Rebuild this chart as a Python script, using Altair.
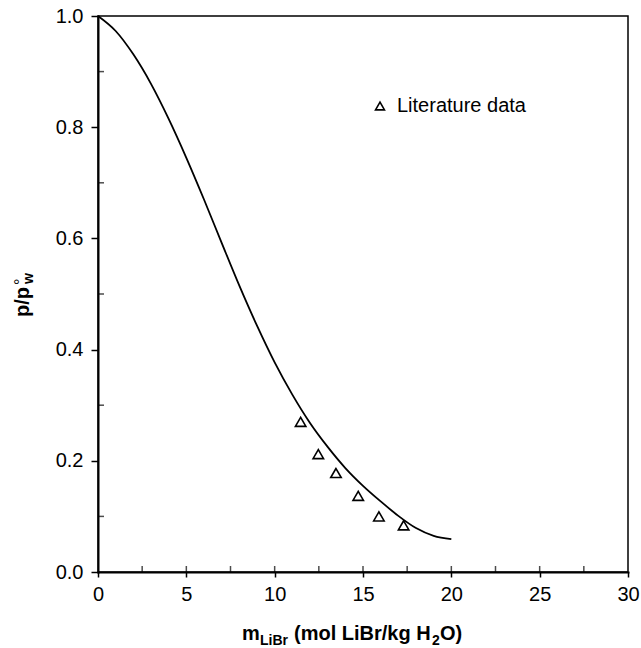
import altair as alt
import pandas as pd

# Model curve
curve_m = [0, 1, 2, 3, 4, 5, 6, 7, 8, 9, 10, 11, 12, 13, 14, 15, 16, 17, 18, 19, 20]
curve_p = [1.000, 0.973, 0.931, 0.878, 0.815, 0.745, 0.670, 0.592, 0.515, 0.443, 0.377,
           0.319, 0.268, 0.225, 0.187, 0.155, 0.127, 0.101, 0.079, 0.065, 0.059]

# Literature data
lit_m = [11.47, 12.47, 13.47, 14.73, 15.9, 17.3]
lit_p = [0.270, 0.212, 0.178, 0.137, 0.100, 0.084]
lit_label = "Literature data"

x_major = [0, 5, 10, 15, 20, 25, 30]
x_inner = [2.5, 5, 7.5, 10, 12.5, 15, 17.5, 20, 22.5, 25, 27.5]
y_major = [0.0, 0.2, 0.4, 0.6, 0.8, 1.0]
y_minor = [0.1, 0.3, 0.5, 0.7, 0.9]

W, H = 530, 556
FONT = "Liberation Sans"

curve_df = pd.DataFrame({"m": curve_m, "p": curve_p})
lit_df = pd.DataFrame({"m": lit_m, "p": lit_p, "series": [lit_label] * len(lit_m)})

xscale = alt.Scale(domain=[0, 30], nice=False, zero=False)
yscale = alt.Scale(domain=[0, 1], nice=False, zero=False)

xaxis = alt.Axis(values=x_major, format="d", title=None, grid=False, tickSize=5,
                 tickWidth=1.5, tickColor="black", domainColor="black", domainWidth=2,
                 labelFont=FONT, labelFontSize=20, labelColor="black", labelPadding=7,
                 labelFlush=False)
yaxis = alt.Axis(values=y_major, format=".1f", title=None, grid=False, tickSize=7,
                 tickWidth=1.5, tickColor="black", domainColor="black", domainWidth=2,
                 labelFont=FONT, labelFontSize=20, labelColor="black", labelPadding=8)

line = alt.Chart(curve_df).mark_line(color="black", strokeWidth=1.8, interpolate="monotone").encode(
    x=alt.X("m:Q", scale=xscale, axis=xaxis),
    y=alt.Y("p:Q", scale=yscale, axis=yaxis),
)

pts = alt.Chart(lit_df).mark_point(shape="triangle-up", filled=False, size=110, strokeWidth=1.6, opacity=1).encode(
    x=alt.X("m:Q", scale=xscale),
    y=alt.Y("p:Q", scale=yscale),
    color=alt.Color("series:N", scale=alt.Scale(range=["black"]),
                    legend=alt.Legend(title=None, orient="none", legendX=272, legendY=80,
                                      symbolType="triangle-up", symbolSize=80, symbolStrokeWidth=1.6,
                                      symbolFillColor="white", labelFont=FONT, labelFontSize=20,
                                      labelColor="black", padding=0, labelOffset=7)),
)

xt_df = pd.DataFrame({"v": x_inner})
x_in = alt.Chart(xt_df).mark_tick(color="black", thickness=1.5, size=6, orient="vertical").encode(
    x=alt.X("v:Q", scale=xscale), y=alt.value(H - 3))

yt_df = pd.DataFrame({"v": y_minor})
y_in = alt.Chart(yt_df).mark_tick(color="black", thickness=1.5, size=6, orient="horizontal").encode(
    y=alt.Y("v:Q", scale=yscale), x=alt.value(3))


def txt(s, x, y, size, bold=True, angle=0, align="left"):
    return alt.Chart(pd.DataFrame({"t": [s]})).mark_text(
        font=FONT, fontSize=size, fontWeight="bold" if bold else "normal", color="black",
        align=align, baseline="alphabetic", angle=angle).encode(
        text="t:N", x=alt.value(x), y=alt.value(y))


bx = 144
by = H + 68
xt = [
    txt("m", bx, by, 20),
    txt("LiBr", bx + 18, by + 5, 14),
    txt("(mol LiBr/kg H", bx + 52, by, 20),
    txt("2", bx + 52 + 138, by + 5, 14),
    txt("O)", bx + 52 + 138 + 8, by, 20),
]

yt = [
    txt("p/p", -69, 271, 20, angle=270, align="right"),
    txt("°", -72, 269, 16, bold=False, angle=270, align="left"),
    txt("w", -65, 268, 14, angle=270, align="left"),
]

chart = alt.layer(line, pts, x_in, y_in, *xt, *yt).properties(
    width=W, height=H,
    autosize=alt.AutoSizeParams(type="none"),
    padding={"left": 98, "top": 16, "right": 13, "bottom": 76},
).configure_view(stroke="black", strokeWidth=1.5).configure_axis(domainCap="square")

chart.save("out.html", embed_options={"renderer": "svg", "actions": False})
